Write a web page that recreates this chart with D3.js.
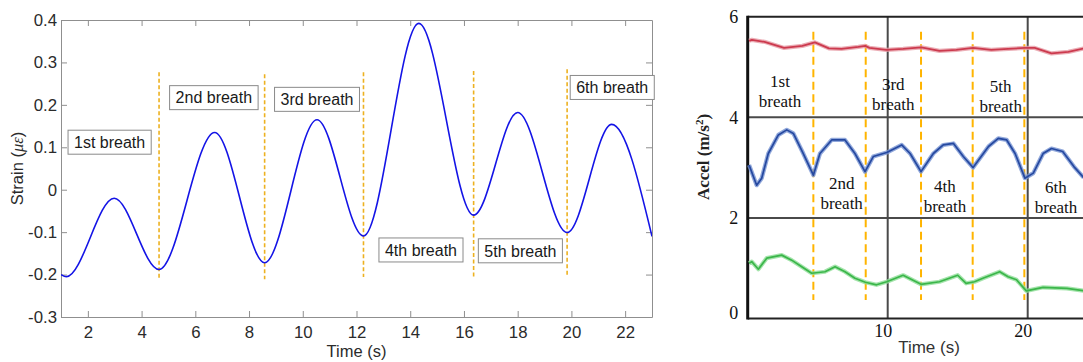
<!DOCTYPE html>
<html>
<head>
<meta charset="utf-8">
<script src="https://cdn.jsdelivr.net/npm/d3@7"></script>
<style>
  body { margin: 0; background: #fff; }
  svg { display: block; }
</style>
</head>
<body>
<script>
// ---- left panel: strain signal ----
const strainTime  = [1.0, 1.2, 2.98, 4.65, 6.72, 8.58, 10.53, 12.26, 14.32, 16.36, 18.0, 19.84, 21.5, 23.0];
const strainValue = [-0.200, -0.205, -0.020, -0.188, 0.135, -0.172, 0.165, -0.109, 0.392, -0.060, 0.182, -0.101, 0.154, -0.110];

const strainSplitTime = [4.65, 8.58, 12.26, 16.36, 19.84];
const strainSplitTop = [0.277, 0.272, 0.277, 0.280, 0.284];
const strainSplitBottom = [-0.209, -0.211, -0.206, -0.205, -0.202];

const strainLabels = ["1st breath", "2nd breath", "3rd breath", "4th breath", "5th breath", "6th breath"];
const strainLabelTime = [2.81, 6.69, 10.53, 14.40, 18.10, 21.52];
const strainLabelValue = [0.112, 0.217, 0.213, -0.142, -0.144, 0.241];

const strainXTicks = [2, 4, 6, 8, 10, 12, 14, 16, 18, 20, 22];
const strainYTicks = [-0.3, -0.2, -0.1, 0, 0.1, 0.2, 0.3, 0.4];
const strainYTickLabels = ["-0.3", "-0.2", "-0.1", "0", "0.1", "0.2", "0.3", "0.4"];

// ---- right panel: accelerometer traces ----
const redTime  = [0.1, 0.3, 1.2, 2.6, 3.9, 4.8, 5.8, 6.7, 7.9, 8.4, 8.7, 9.9, 11.1, 12.4, 13.7, 14.9, 16.1, 17.4, 18.6, 19.8, 20.5, 21.7, 22.9, 24];
const redValue = [5.52, 5.54, 5.50, 5.38, 5.42, 5.49, 5.37, 5.36, 5.40, 5.42, 5.38, 5.34, 5.36, 5.39, 5.32, 5.34, 5.38, 5.34, 5.36, 5.38, 5.38, 5.27, 5.30, 5.37];

const blueTime  = [0.1, 0.64, 1.0, 1.47, 2.19, 2.79, 3.26, 3.97, 4.69, 5.16, 6.0, 6.95, 7.66, 8.38, 8.97, 9.93, 11.0, 11.6, 12.38, 13.26, 13.97, 14.7, 15.4, 16.1, 17.2, 17.9, 18.5, 19.1, 19.8, 20.4, 21.1, 21.7, 22.5, 23.3, 24];
const blueValue = [3.05, 2.65, 2.79, 3.28, 3.65, 3.75, 3.68, 3.28, 2.85, 3.28, 3.55, 3.55, 3.28, 2.92, 3.22, 3.30, 3.45, 3.28, 2.92, 3.28, 3.45, 3.48, 3.22, 3.00, 3.42, 3.58, 3.55, 3.28, 2.79, 2.89, 3.28, 3.38, 3.32, 3.02, 2.80];

const greenTime  = [0.1, 0.29, 0.76, 1.36, 2.43, 3.14, 3.86, 4.57, 5.52, 6.24, 6.95, 7.66, 8.4, 9.2, 9.93, 11.1, 12.38, 13.7, 15.0, 15.6, 16.2, 16.8, 18.0, 18.6, 19.2, 19.9, 21.1, 22.8, 24];
const greenValue = [1.10, 1.13, 0.98, 1.20, 1.26, 1.16, 1.03, 0.90, 0.93, 1.03, 0.93, 0.80, 0.72, 0.67, 0.73, 0.86, 0.68, 0.73, 0.86, 0.70, 0.73, 0.80, 0.93, 0.83, 0.77, 0.55, 0.62, 0.60, 0.55];

const accelSplitTime = [4.69, 8.43, 12.38, 16.07, 19.76];
const accelSplitTop = 5.70;
const accelSplitBottom = 0.37;

const accelLabels = ["1st", "2nd", "3rd", "4th", "5th", "6th"];
const accelLabelTime = [2.31, 6.71, 10.4, 14.09, 18.07, 22.02];
const accelLabelValue = [4.51, 2.48, 4.44, 2.42, 4.40, 2.41];

const accelXTicks = [10, 20];
const accelYTicks = [0, 2, 4, 6];

const width = 1083, height = 362;
const sans = "'Liberation Sans', Arial, Helvetica, sans-serif";
const serif = "'Liberation Serif', 'Times New Roman', serif";

const svg = d3.select("body").append("svg")
  .attr("width", width)
  .attr("height", height);

// ================= left panel =================
const xL = d3.scaleLinear([1, 23], [61, 652]);
const yL = d3.scaleLinear([-0.3, 0.4], [317, 20]);
const left = svg.append("g");

const axisColor = "#8f8f8f";
function styleAxis(g) {
  g.select(".domain").attr("stroke", axisColor);
  g.selectAll(".tick line").attr("stroke", axisColor);
  g.selectAll(".tick text").attr("fill", "#2b2b2b").attr("font-family", sans).attr("font-size", 16.8);
}

left.append("g")
  .attr("transform", `translate(0,${yL.range()[0]})`)
  .call(d3.axisBottom(xL).tickValues(strainXTicks).tickSize(-6).tickSizeOuter(0).tickPadding(9).tickFormat(d3.format("d")))
  .call(styleAxis);
left.append("g")
  .attr("transform", `translate(0,${yL.range()[1]})`)
  .call(d3.axisTop(xL).tickValues(strainXTicks).tickSize(-6).tickSizeOuter(0).tickFormat(""))
  .call(styleAxis);
left.append("g")
  .attr("transform", `translate(${xL.range()[0]},0)`)
  .call(d3.axisLeft(yL).tickValues(strainYTicks).tickSize(-6).tickSizeOuter(0).tickPadding(4)
    .tickFormat((d, i) => strainYTickLabels[i]))
  .call(styleAxis);
left.append("g")
  .attr("transform", `translate(${xL.range()[1]},0)`)
  .call(d3.axisRight(yL).tickValues(strainYTicks).tickSize(-6).tickSizeOuter(0).tickFormat(""))
  .call(styleAxis);

left.append("defs").append("clipPath").attr("id", "clipL")
  .append("rect")
  .attr("x", xL.range()[0]).attr("y", yL.range()[1])
  .attr("width", xL.range()[1] - xL.range()[0])
  .attr("height", yL.range()[0] - yL.range()[1]);

// breath separators
left.append("g")
  .selectAll("line")
  .data(strainSplitTime)
  .join("line")
  .attr("x1", d => xL(d)).attr("x2", d => xL(d))
  .attr("y1", (d, i) => yL(strainSplitTop[i]))
  .attr("y2", (d, i) => yL(strainSplitBottom[i]))
  .attr("stroke", "#EDB120")
  .attr("stroke-width", 1.6)
  .attr("stroke-dasharray", "4,2.5");

const strainLine = d3.line()
  .x((d, i) => xL(strainTime[i]))
  .y(d => yL(d))
  .curve(d3.curveMonotoneX);

left.append("path")
  .attr("clip-path", "url(#clipL)")
  .attr("d", strainLine(strainValue))
  .attr("fill", "none")
  .attr("stroke", "#1414e6")
  .attr("stroke-width", 1.6);

// text boxes
const boxes = left.append("g")
  .selectAll("g")
  .data(strainLabels)
  .join("g")
  .attr("transform", (d, i) => `translate(${xL(strainLabelTime[i])},${yL(strainLabelValue[i])})`);
boxes.append("text")
  .attr("text-anchor", "middle")
  .attr("dy", "0.36em")
  .attr("font-family", sans)
  .attr("font-size", 16)
  .attr("fill", "#1a1a1a")
  .text(d => d);
boxes.each(function () {
  const g = d3.select(this);
  const w = g.select("text").node().getComputedTextLength() + 12;
  g.insert("rect", "text")
    .attr("x", -w / 2).attr("y", -12)
    .attr("width", w).attr("height", 24)
    .attr("fill", "#fff")
    .attr("stroke", "#8a8a8a")
    .attr("stroke-width", 1);
});

// axis titles
left.append("text")
  .attr("x", (xL.range()[0] + xL.range()[1]) / 2)
  .attr("y", 357)
  .attr("text-anchor", "middle")
  .attr("font-family", sans)
  .attr("font-size", 16.5)
  .attr("fill", "#2b2b2b")
  .text("Time (s)");

const ylab = left.append("text")
  .attr("transform", `translate(23,${(yL.range()[0] + yL.range()[1]) / 2}) rotate(-90)`)
  .attr("text-anchor", "middle")
  .attr("font-family", sans)
  .attr("font-size", 16.5)
  .attr("fill", "#2b2b2b");
ylab.append("tspan").text("Strain (");
ylab.append("tspan").attr("font-style", "italic").attr("font-family", serif).text("με");
ylab.append("tspan").text(")");

// ================= right panel =================
const xR = d3.scaleLinear([0, 24], [747.7, 1083.7]);
const yR = d3.scaleLinear([0, 6], [318.5, 16.7]);
const right = svg.append("g");

// grid
right.append("g")
  .selectAll("line")
  .data([2, 4])
  .join("line")
  .attr("x1", xR(0)).attr("x2", width)
  .attr("y1", d => yR(d)).attr("y2", d => yR(d))
  .attr("stroke", "#4a4a4a")
  .attr("stroke-width", 2);
right.append("g")
  .selectAll("line")
  .data(accelXTicks)
  .join("line")
  .attr("x1", d => xR(d)).attr("x2", d => xR(d))
  .attr("y1", yR(6)).attr("y2", yR(0))
  .attr("stroke", "#4a4a4a")
  .attr("stroke-width", 2);
right.append("line")
  .attr("x1", xR(0)).attr("x2", width)
  .attr("y1", yR(6)).attr("y2", yR(6))
  .attr("stroke", "#222").attr("stroke-width", 2);
right.append("line")
  .attr("x1", xR(0)).attr("x2", width)
  .attr("y1", yR(0)).attr("y2", yR(0))
  .attr("stroke", "#222").attr("stroke-width", 2);
right.append("line")
  .attr("x1", xR(0)).attr("x2", xR(0))
  .attr("y1", yR(6) - 1).attr("y2", yR(0) + 1)
  .attr("stroke", "#111").attr("stroke-width", 3);

// breath separators
right.append("g")
  .selectAll("line")
  .data(accelSplitTime)
  .join("line")
  .attr("x1", d => xR(d)).attr("x2", d => xR(d))
  .attr("y1", yR(accelSplitTop)).attr("y2", yR(accelSplitBottom))
  .attr("stroke", "#FFB400")
  .attr("stroke-width", 2)
  .attr("stroke-dasharray", "8,4.5");

// traces (wide soft halo + thin core to mimic the fuzzy scan)
const traces = [
  { t: redTime, v: redValue, halo: "#e69aa4", core: "#cc3a4e" },
  { t: blueTime, v: blueValue, halo: "#7592d2", core: "#2649a0" },
  { t: greenTime, v: greenValue, halo: "#8fdd97", core: "#3bb64a" }
];
traces.forEach(s => {
  const line = d3.line().x((d, i) => xR(s.t[i])).y(d => yR(d));
  right.append("path")
    .attr("d", line(s.v))
    .attr("fill", "none")
    .attr("stroke", s.halo)
    .attr("stroke-width", 4.2)
    .attr("stroke-linejoin", "round")
    .attr("stroke-opacity", 0.8);
  right.append("path")
    .attr("d", line(s.v))
    .attr("fill", "none")
    .attr("stroke", s.core)
    .attr("stroke-width", 1.7)
    .attr("stroke-linejoin", "round");
});

// breath labels
const rl = right.append("g")
  .selectAll("text")
  .data(accelLabels)
  .join("text")
  .attr("x", (d, i) => xR(accelLabelTime[i]))
  .attr("y", (d, i) => yR(accelLabelValue[i]))
  .attr("text-anchor", "middle")
  .attr("font-family", serif)
  .attr("font-size", 17)
  .attr("fill", "#111");
rl.append("tspan").attr("x", (d, i) => xR(accelLabelTime[i])).attr("dy", "-0.28em").text(d => d);
rl.append("tspan").attr("x", (d, i) => xR(accelLabelTime[i])).attr("dy", "1.18em").text("breath");

// tick labels
right.append("g")
  .attr("transform", `translate(0,${yR(0)})`)
  .call(d3.axisBottom(xR).tickValues(accelXTicks).tickSize(0).tickPadding(6).tickFormat(d3.format("d")))
  .call(g => g.select(".domain").remove())
  .call(g => g.selectAll("text").attr("x", -5).attr("font-family", serif).attr("font-size", 18).attr("fill", "#111"));
right.append("g")
  .attr("transform", `translate(${xR(0)},0)`)
  .call(d3.axisLeft(yR).tickValues(accelYTicks).tickSize(0).tickPadding(14).tickFormat(d3.format("d")))
  .call(g => g.select(".domain").remove())
  .call(g => g.selectAll("text").attr("font-family", serif).attr("font-size", 18).attr("fill", "#111")
    .attr("text-anchor", "middle")
    .attr("y", d => d === 0 ? -6 : 0));

right.append("text")
  .attr("x", 929)
  .attr("y", 353)
  .attr("text-anchor", "middle")
  .attr("font-family", sans)
  .attr("font-size", 17)
  .attr("fill", "#333")
  .text("Time (s)");

const ry = right.append("text")
  .attr("transform", `translate(709,${157}) rotate(-90)`)
  .attr("text-anchor", "middle")
  .attr("font-family", serif)
  .attr("font-weight", "bold")
  .attr("font-size", 17)
  .attr("fill", "#222");
ry.append("tspan").text("Accel (m/s");
ry.append("tspan").attr("font-size", 11).attr("dy", "-0.55em").text("2");
ry.append("tspan").attr("dy", "0.37em").text(")");
</script>
</body>
</html>
